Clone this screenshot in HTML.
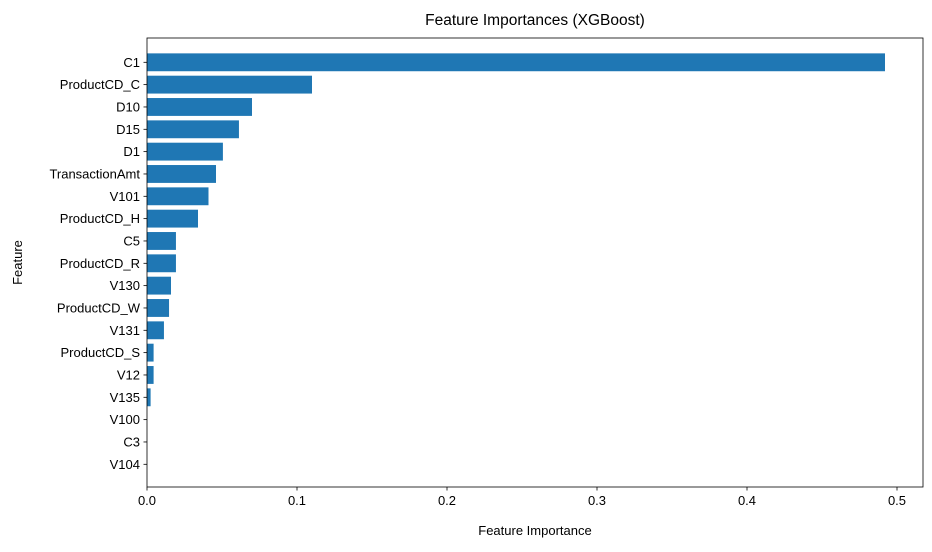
<!DOCTYPE html>
<html><head><meta charset="utf-8"><style>body{margin:0;background:#fff}svg{font-family:"Liberation Sans","DejaVu Sans",sans-serif}</style></head>
<body>
<svg id="c" width="932" height="547"></svg>
<script>
const categories=["C1","ProductCD_C","D10","D15","D1","TransactionAmt","V101","ProductCD_H","C5","ProductCD_R","V130","ProductCD_W","V131","ProductCD_S","V12","V135","V100","C3","V104"];
const importances=[0.492,0.110,0.070,0.0613,0.0506,0.046,0.041,0.034,0.0193,0.0193,0.016,0.0147,0.0113,0.0044,0.0044,0.0024,0,0,0];
const xTicks=[0,0.1,0.2,0.3,0.4,0.5];
const xTickLabels=["0.0","0.1","0.2","0.3","0.4","0.5"];
const NS="http://www.w3.org/2000/svg",svg=document.getElementById('c');
const L=147,R=923,T=38,B=487;
const x=v=>L+v*1500;
const step=(464.3-62.3)/(categories.length-1);
const y=i=>62.3+i*step;
function mk(t,a,txt){const e=document.createElementNS(NS,t);for(const k in a)e.setAttribute(k,a[k]);if(txt!=null)e.textContent=txt;svg.appendChild(e);return e;}
categories.forEach((c,i)=>{
 const r=mk('rect',{x:x(0),y:y(i)-step*0.4,width:Math.max(0,x(importances[i])-x(0)),height:step*0.8,fill:'#1f77b4'});
 
 
 const tk=mk('line',{x1:L-3.5,x2:L,y1:y(i),y2:y(i),stroke:'#000','stroke-width':0.8});
 
 
 const t=mk('text',{x:L-7,y:y(i)+4.5,'text-anchor':'end','font-size':13,fill:'#000'},c);
 
 
});
xTicks.forEach((v,i)=>{
 const tk=mk('line',{x1:x(v),x2:x(v),y1:B,y2:B+3.5,stroke:'#000','stroke-width':0.8});
 
 
 const t=mk('text',{x:x(v),y:B+18,'text-anchor':'middle','font-size':13,fill:'#000'},xTickLabels[i]);
 
 
});
const fr=mk('rect',{x:L,y:T,width:R-L,height:B-T,fill:'none',stroke:'#000','stroke-width':0.8});


const ti=mk('text',{x:(L+R)/2,y:T-13,'text-anchor':'middle','font-size':15.5,fill:'#000'},'Feature Importances (XGBoost)');


const xl=mk('text',{x:(L+R)/2,y:535,'text-anchor':'middle','font-size':13,fill:'#000'},'Feature Importance');


const yl=mk('text',{x:22,y:(T+B)/2,'text-anchor':'middle','font-size':13,fill:'#000',transform:'rotate(-90 22 '+((T+B)/2)+')'},'Feature');


</script>
</body></html>
